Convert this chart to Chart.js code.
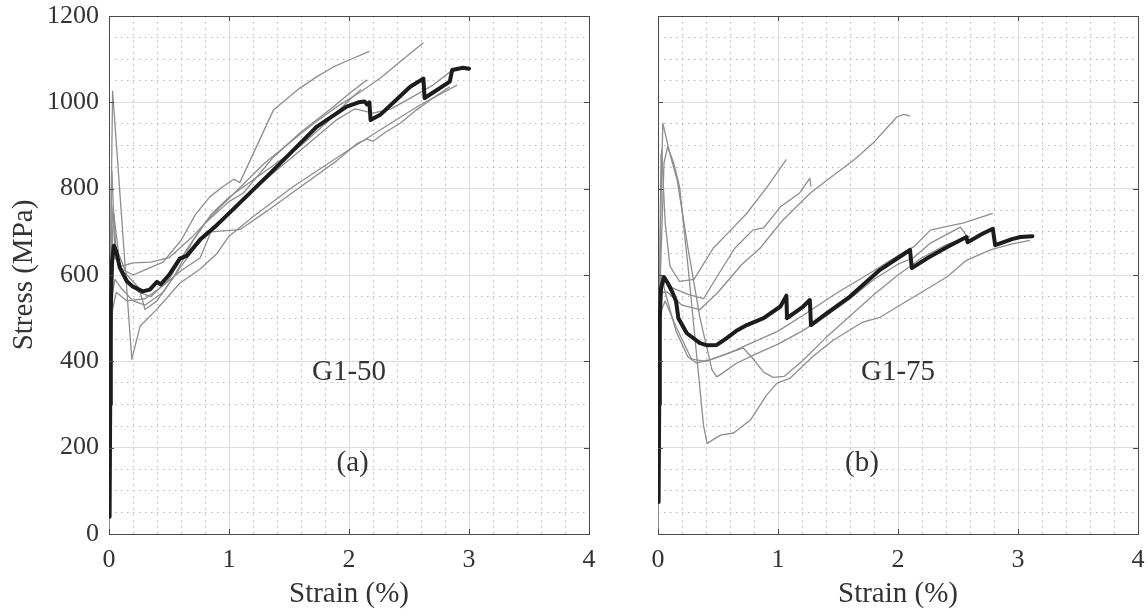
<!DOCTYPE html>
<html><head><meta charset="utf-8">
<script src="https://cdn.jsdelivr.net/npm/chart.js@4.4.1/dist/chart.umd.min.js"></script>
<style>
html,body{margin:0;padding:0;background:#fff;width:1148px;height:616px;overflow:hidden;}
#c1{position:absolute;left:0;top:0;}
#c2{position:absolute;left:600px;top:0;}
</style></head><body>
<canvas id="c1" width="600" height="616"></canvas>
<canvas id="c2" width="548" height="616"></canvas>
<script>
// ---- axis ticks ----
const xTicks = [0, 1, 2, 3, 4];
const yTicks = [0, 200, 400, 600, 800, 1000, 1200];
const xMinorStep = 0.2;
const yMinorStep = 50;
const xTitle = 'Strain (%)';
const yTitle = 'Stress (MPa)';

// ---- panel (a) G1-50 : [strain %, stress MPa] ----
const g150_mean = [[0.005,40],[0.01,300],[0.015,520],[0.025,630],[0.04,668],[0.06,655],[0.09,617],[0.15,585],[0.2,573],[0.28,562],[0.34,566],[0.4,584],[0.43,578],[0.5,600],[0.59,638],[0.65,645],[0.76,682],[0.9,716],[1.09,767],[1.37,843],[1.73,943],[1.98,990],[2.08,1000],[2.13,1002],[2.15,995],[2.17,1000],[2.18,959],[2.26,971],[2.51,1036],[2.62,1055],[2.63,1010],[2.84,1048],[2.86,1075],[2.95,1080],[3.0,1078]];
const g150_s1 = [[0,0],[0.01,450],[0.02,700],[0.035,760],[0.06,650],[0.1,615],[0.2,600],[0.3,612],[0.45,630],[0.6,680],[0.72,740],[0.84,781],[0.95,805],[1.04,822],[1.09,814],[1.2,880],[1.37,982],[1.45,1001],[1.59,1033],[1.73,1059],[1.87,1082],[2.0,1098],[2.17,1118]];
const g150_s2 = [[0,0],[0.01,500],[0.02,800],[0.025,840],[0.05,640],[0.1,620],[0.2,628],[0.35,630],[0.5,640],[0.7,690],[0.9,750],[1.1,805],[1.3,860],[1.5,905],[1.7,950],[1.9,990],[2.1,1025],[2.26,1056],[2.42,1093],[2.62,1138]];
const g150_s3 = [[0,0],[0.01,400],[0.03,600],[0.05,680],[0.08,620],[0.15,590],[0.25,560],[0.35,550],[0.5,590],[0.65,660],[0.8,720],[1.0,770],[1.12,790],[1.37,873],[1.59,929],[1.87,990],[2.0,1020],[2.15,1052]];
const g150_s4 = [[0,0],[0.01,400],[0.03,520],[0.06,560],[0.15,540],[0.3,545],[0.45,575],[0.6,610],[0.76,640],[0.85,700],[0.95,702],[1.09,705],[1.3,745],[1.6,805],[1.9,865],[2.07,905],[2.15,915],[2.2,910],[2.3,930],[2.43,952],[2.56,982],[2.7,1010],[2.84,1036]];
const g150_s5 = [[0,0],[0.01,420],[0.03,560],[0.05,590],[0.1,570],[0.2,540],[0.3,530],[0.45,560],[0.6,620],[0.8,695],[1.0,745],[1.3,820],[1.6,890],[1.9,960],[2.05,985],[2.2,975],[2.35,985],[2.5,1008],[2.7,1040],[2.84,1070],[2.97,1083]];
const g150_s6 = [[0,0],[0.015,700],[0.03,1026],[0.19,405],[0.26,482],[0.4,521],[0.59,581],[0.76,614],[0.9,650],[1.0,690],[1.2,735],[1.53,804],[2.0,890],[2.43,966],[2.6,995],[2.9,1040]];
const g150_s7 = [[0,0],[0.01,500],[0.03,700],[0.04,740],[0.08,650],[0.15,600],[0.25,570],[0.3,520],[0.4,540],[0.55,600],[0.7,680],[0.85,740],[1.0,780],[1.2,820],[1.4,860],[1.6,900],[1.8,950],[2.0,1005],[2.1,1030]];

// ---- panel (b) G1-75 ----
const g175_mean = [[0.005,74],[0.01,300],[0.015,500],[0.025,570],[0.05,595],[0.08,582],[0.12,560],[0.15,540],[0.17,500],[0.24,465],[0.35,442],[0.41,437],[0.49,438],[0.57,453],[0.65,470],[0.74,484],[0.88,500],[1.02,527],[1.07,552],[1.075,500],[1.21,527],[1.265,542],[1.275,484],[1.4,510],[1.6,550],[1.85,612],[2.1,658],[2.115,616],[2.25,640],[2.41,665],[2.57,688],[2.58,676],[2.7,695],[2.79,707],[2.81,669],[2.95,683],[3.02,688],[3.12,690]];
const g175_s1 = [[0,0],[0.01,500],[0.025,880],[0.03,890],[0.06,720],[0.1,620],[0.18,585],[0.3,590],[0.46,662],[0.63,711],[0.74,743],[0.91,804],[1.07,868]];
const g175_s2 = [[0,0],[0.01,480],[0.03,560],[0.06,590],[0.12,570],[0.25,555],[0.38,545],[0.5,600],[0.64,662],[0.79,704],[0.88,709],[1.02,758],[1.18,790],[1.265,824],[1.275,805]];
const g175_s3 = [[0,0],[0.01,450],[0.03,560],[0.08,560],[0.2,530],[0.35,520],[0.5,560],[0.7,625],[0.85,662],[1.04,727],[1.27,790],[1.41,820],[1.63,866],[1.79,905],[1.99,966],[2.05,972],[2.1,968]];
const g175_s4 = [[0,0],[0.01,400],[0.03,520],[0.06,540],[0.15,480],[0.28,405],[0.4,400],[0.6,420],[0.8,445],[1.0,470],[1.2,505],[1.5,560],[1.8,610],[2.0,645],[2.13,665],[2.27,704],[2.4,712],[2.54,720],[2.79,743]];
const g175_s5 = [[0,0],[0.02,700],[0.04,952],[0.1,880],[0.16,820],[0.25,662],[0.35,500],[0.45,380],[0.49,364],[0.55,375],[0.65,395],[0.8,415],[1.0,440],[1.2,470],[1.4,505],[1.6,545],[1.8,590],[2.0,625],[2.13,640],[2.27,674],[2.52,711],[2.58,688]];
const g175_s6 = [[0,0],[0.02,600],[0.05,860],[0.08,897],[0.13,860],[0.18,804],[0.25,620],[0.32,420],[0.38,250],[0.41,210],[0.52,229],[0.63,234],[0.77,264],[0.9,320],[0.99,349],[1.1,361],[1.29,411],[1.46,449],[1.7,490],[1.85,502],[2.13,549],[2.41,596],[2.57,634],[2.77,658],[2.95,672],[3.1,680]];
const g175_s7 = [[0,0],[0.01,450],[0.03,600],[0.06,560],[0.15,470],[0.25,410],[0.32,396],[0.45,405],[0.6,420],[0.71,431],[0.78,410],[0.88,375],[0.96,363],[1.05,365],[1.2,400],[1.4,455],[1.6,505],[1.8,555],[2.0,600],[2.2,640],[2.4,670],[2.6,690]];

// ---- annotations (text, strain, stress) ----
const labelsA = [['G1-50', 2.0, 375], ['(a)', 2.03, 163]];
const labelsB = [['G1-75', 2.0, 375], ['(b)', 1.7, 163]];

const FONT = "'Liberation Serif','Times New Roman',serif";
const TXT = '#333333';
const AX = '#4a4a4a';
function isMajor(v, step){ return Math.abs(v/step - Math.round(v/step)) < 1e-6; }
function noPad(s){ s.paddingTop = 0; s.paddingBottom = 0; s.paddingLeft = 0; s.paddingRight = 0; }

const innerTicks = {
  id: 'innerTicks',
  afterDraw(chart, args, opts) {
    const {ctx, chartArea: a, scales} = chart;
    ctx.save();
    ctx.strokeStyle = AX; ctx.lineWidth = 1;
    const L = 5;
    ctx.beginPath();
    xTicks.forEach(v => {
      const px = Math.round(scales.x.getPixelForValue(v)) + 0.5;
      ctx.moveTo(px, a.bottom); ctx.lineTo(px, a.bottom - L);
      ctx.moveTo(px, a.top); ctx.lineTo(px, a.top + L);
    });
    yTicks.forEach(v => {
      const py = Math.round(scales.y.getPixelForValue(v)) + 0.5;
      ctx.moveTo(a.left, py); ctx.lineTo(a.left + L, py);
      ctx.moveTo(a.right, py); ctx.lineTo(a.right - L, py);
    });
    ctx.stroke();
    ctx.fillStyle = TXT;
    ctx.font = '29px ' + FONT;
    ctx.textAlign = 'center'; ctx.textBaseline = 'middle';
    (opts.labels || []).forEach(l => {
      ctx.fillText(l[0], scales.x.getPixelForValue(l[1]), scales.y.getPixelForValue(l[2]));
    });
    ctx.restore();
  }
};

function toXY(arr){ return arr.map(p => ({x: p[0], y: p[1]})); }

function build(id, mean, grays, labels, showY, leftW, rightPad) {
  const datasets = [{
    data: toXY(mean), borderColor: '#1c1c1c', borderWidth: 4, pointRadius: 0,
    order: 0, tension: 0, borderJoinStyle: 'round', borderCapStyle: 'round'
  }];
  grays.forEach(g => datasets.push({
    data: toXY(g), borderColor: '#8e8e8e', borderWidth: 1.3, pointRadius: 0,
    order: 1, tension: 0, borderJoinStyle: 'round'
  }));
  return new Chart(document.getElementById(id), {
    type: 'line',
    data: {datasets},
    plugins: [innerTicks],
    options: {
      responsive: false, animation: false, devicePixelRatio: 1,
      layout: {padding: {top: 16, right: rightPad, left: 0, bottom: 0}},
      plugins: {legend: {display: false}, tooltip: {enabled: false}, innerTicks: {labels}},
      scales: {
        x: {
          type: 'linear', position: 'bottom', min: xTicks[0], max: xTicks[xTicks.length-1],
          ticks: {stepSize: xTicks[1]-xTicks[0], font: {family: FONT, size: 26}, color: TXT, padding: 11, maxRotation: 0, autoSkip: false, callback: v => String(v)},
          grid: {color: '#dddddd', lineWidth: 1, drawTicks: false},
          border: {color: AX, width: 1},
          title: {display: true, text: xTitle, font: {family: FONT, size: 29, lineHeight: 1}, color: TXT, padding: {top: 0, bottom: 7}},
          afterFit: s => { s.height = 82; noPad(s); }
        },
        xm: {
          type: 'linear', position: 'bottom', min: xTicks[0], max: xTicks[xTicks.length-1],
          ticks: {display: false, stepSize: xMinorStep},
          grid: {drawTicks: false, lineWidth: 1, color: c => isMajor(c.tick.value, 1) ? 'rgba(0,0,0,0)' : '#b8b8b8'},
          border: {display: false, dash: [1.5, 4.5]},
          afterFit: s => { s.height = 0; noPad(s); }
        },
        xt: {
          type: 'linear', position: 'top', min: xTicks[0], max: xTicks[xTicks.length-1],
          ticks: {display: false},
          grid: {drawOnChartArea: false, drawTicks: false},
          border: {color: AX, width: 1},
          afterFit: s => { s.height = 0; noPad(s); }
        },
        y: {
          type: 'linear', position: 'left', min: yTicks[0], max: yTicks[yTicks.length-1],
          ticks: {display: showY, stepSize: yTicks[1]-yTicks[0], font: {family: FONT, size: 26}, color: TXT, padding: 10, callback: v => String(v)},
          grid: {color: '#dddddd', lineWidth: 1, drawTicks: false},
          border: {color: AX, width: 1},
          title: {display: showY, text: yTitle, font: {family: FONT, size: 29, lineHeight: 1}, color: TXT, padding: {top: 10, bottom: 0}},
          afterFit: s => { s.width = leftW; noPad(s); }
        },
        ym: {
          type: 'linear', position: 'left', min: yTicks[0], max: yTicks[yTicks.length-1],
          ticks: {display: false, stepSize: yMinorStep},
          grid: {drawTicks: false, lineWidth: 1, color: c => isMajor(c.tick.value, 200) ? 'rgba(0,0,0,0)' : '#b8b8b8'},
          border: {display: false, dash: [1.5, 4.5]},
          afterFit: s => { s.width = 0; noPad(s); }
        },
        yr: {
          type: 'linear', position: 'right', min: yTicks[0], max: yTicks[yTicks.length-1],
          ticks: {display: false},
          grid: {drawOnChartArea: false, drawTicks: false},
          border: {color: AX, width: 1},
          afterFit: s => { s.width = 0; noPad(s); }
        }
      }
    }
  });
}

build('c1', g150_mean, [g150_s1, g150_s2, g150_s3, g150_s4, g150_s5, g150_s6, g150_s7], labelsA, true, 109, 11);
build('c2', g175_mean, [g175_s1, g175_s2, g175_s3, g175_s4, g175_s5, g175_s6, g175_s7], labelsB, false, 58, 10);
</script>
</body></html>
